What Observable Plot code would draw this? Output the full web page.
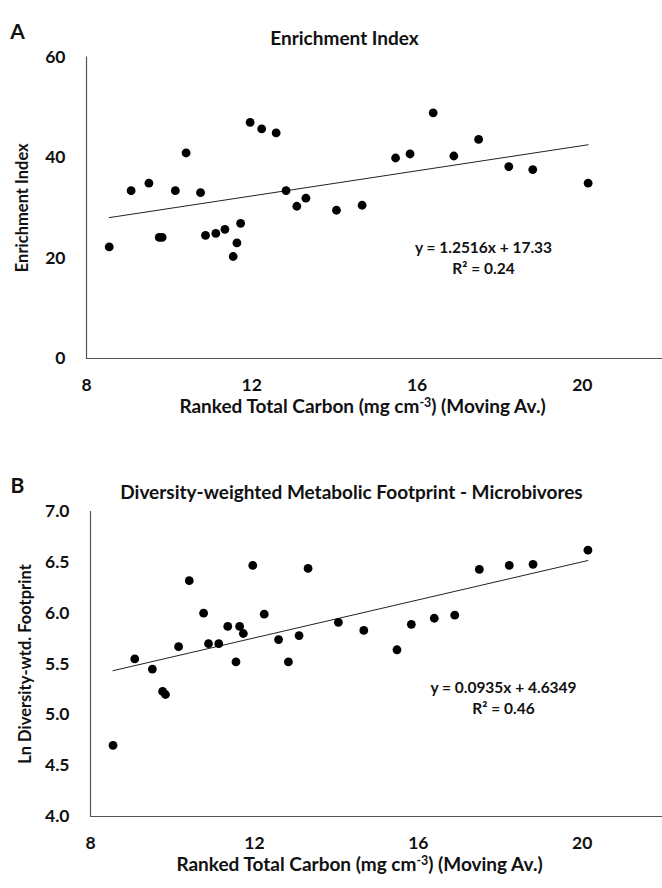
<!DOCTYPE html>
<html><head><meta charset="utf-8">
<script src="https://cdn.jsdelivr.net/npm/d3@7"></script>
<script src="https://cdn.jsdelivr.net/npm/@observablehq/plot@0.6"></script>
<style>body{margin:0;background:#fff;} #chart{width:662px;} svg{display:block;}</style>
</head><body><div id="chart"></div>
<script>
// Ranked total carbon (moving average), shared by both panels
const carbon = [8.55, 9.08, 9.51, 9.76, 9.83, 10.15, 10.41, 10.76, 10.88, 11.13,
  11.35, 11.55, 11.64, 11.73, 11.96, 12.24, 12.59, 12.83, 13.09, 13.31,
  14.05, 14.67, 15.48, 15.83, 16.39, 16.89, 17.49, 18.22, 18.80, 20.14];
// Panel A: Enrichment Index
const enrichment = [22.2, 33.4, 34.9, 24.1, 24.1, 33.4, 40.9, 33.0, 24.5, 24.9,
  25.7, 20.3, 23.0, 26.9, 47.0, 45.7, 44.9, 33.4, 30.3, 31.9,
  29.5, 30.5, 39.9, 40.7, 48.9, 40.3, 43.6, 38.2, 37.6, 34.9];
// Panel B: Ln diversity-weighted metabolic footprint (microbivores)
const footprint = [4.70, 5.55, 5.45, 5.23, 5.20, 5.67, 6.32, 6.00, 5.70, 5.70,
  5.87, 5.52, 5.87, 5.80, 6.47, 5.99, 5.74, 5.52, 5.78, 6.44,
  5.91, 5.83, 5.64, 5.89, 5.95, 5.98, 6.43, 6.47, 6.48, 6.62];
const xTicks = [8, 12, 16, 20];
const yTicksA = [0, 20, 40, 60];
const yTicksB = [4.0, 4.5, 5.0, 5.5, 6.0, 6.5, 7.0];
const fitA = {slope: 1.2516, intercept: 17.33, eq: "y = 1.2516x + 17.33", r2: "R² = 0.24"};
const fitB = {slope: 0.0935, intercept: 4.6349, eq: "y = 0.0935x + 4.6349", r2: "R² = 0.46"};
const xLabel = "Ranked Total Carbon (mg cm-3) (Moving Av.)";

const FONT = "Lato, 'Open Sans', sans-serif";
const AXIS = "#555";

function panel(o) {
  const pts = carbon.map((c, i) => ({x: c, y: o.ys[i]}));
  const x0 = d3.min(carbon), x1 = d3.max(carbon);
  const line = [x0, x1].map(x => ({x, y: o.fit.slope * x + o.fit.intercept}));
  const bold = {fontFamily: FONT, fontWeight: "bold", fill: "#111"};
  return Plot.plot({
    width: 662, height: 444,
    marginLeft: o.ml, marginRight: 0, marginTop: o.mt, marginBottom: o.mb,
    style: {fontFamily: FONT, background: "#fff", overflow: "visible"},
    x: {domain: [8, o.xMax], ticks: xTicks},
    y: {domain: o.yDomain, ticks: o.yTicks},
    marks: [
      Plot.ruleY([o.yDomain[0]], {stroke: AXIS, strokeWidth: 1.2}),
      Plot.ruleX([8], {stroke: AXIS, strokeWidth: 1.2}),
      Plot.axisX({ticks: xTicks, tickSize: 0, tickPadding: 20, fontSize: 17.5, fontWeight: "bold", fontFamily: FONT, fill: "#111", label: null}),
      Plot.axisY({ticks: o.yTicks, tickSize: 0, tickPadding: 21, fontSize: 17.5, fontWeight: "bold", fontFamily: FONT, fill: "#111", label: null, tickFormat: o.yFormat}),
      Plot.line(line, {x: "x", y: "y", stroke: "#222", strokeWidth: 1}),
      Plot.dot(pts, {x: "x", y: "y", r: 4.4, fill: "#000", stroke: "none"}),
      Plot.text([o.letter], {frameAnchor: "top-left", dx: o.letterDx, dy: o.letterDy, fontSize: 21, ...bold, textAnchor: "middle"}),
      Plot.text([o.title], {frameAnchor: "top-left", dx: o.titleDx, dy: o.titleDy, fontSize: 19, ...bold, textAnchor: "middle"}),
      Plot.text([o.yLabel], {frameAnchor: "left", dx: o.yLabDx, rotate: -90, fontSize: 16.5, ...bold, textAnchor: "middle"}),
      Plot.text([xLabel], {frameAnchor: "bottom-left", dx: o.xLabDx, dy: 54, fontSize: 19, fontWeight: "bold", fontFamily: FONT, fill: "#111", textAnchor: "middle"}),
      Plot.text([o.fit.eq + "\n" + o.fit.r2], {frameAnchor: "top-left", dx: o.eqDx, dy: o.eqDy, fontSize: 15.5, ...bold, textAnchor: "middle", lineAnchor: "middle", lineHeight: 1.35})
    ]
  });
}

function superscript(svg) {
  d3.select(svg).selectAll("text").each(function() {
    const t = d3.select(this);
    if (this.textContent === xLabel) {
      t.text(null);
      t.append("tspan").text("Ranked Total Carbon (mg cm");
      t.append("tspan").attr("dy", "-0.45em").attr("font-size", "0.65em").text("-3");
      t.append("tspan").attr("dy", "0.3em").text(") (Moving Av.)");
    }
  });
}

const a = panel({
  ys: enrichment, fit: fitA, yDomain: [0, 60], yTicks: yTicksA, yFormat: d => d,
  ml: 86, mt: 56.5, mb: 86, xMax: 21.94,
  letter: "A", letterDx: -69, letterDy: -33,
  title: "Enrichment Index", titleDx: 258, titleDy: -25.5,
  yLabel: "Enrichment Index", yLabDx: -64,
  xLabDx: 276, eqDx: 397, eqDy: 199.5
});
const b = panel({
  ys: footprint, fit: fitB, yDomain: [4, 7], yTicks: yTicksB, yFormat: d3.format(".1f"),
  ml: 90, mt: 67, mb: 72, xMax: 21.96,
  letter: "B", letterDx: -73, letterDy: -33,
  title: "Diversity-weighted Metabolic Footprint - Microbivores", titleDx: 261, titleDy: -26,
  yLabel: "Ln Diversity-wtd. Footprint", yLabDx: -65,
  xLabDx: 269, eqDx: 413, eqDy: 185
});
superscript(a); superscript(b);
document.getElementById("chart").append(a, b);
</script>
</body></html>
